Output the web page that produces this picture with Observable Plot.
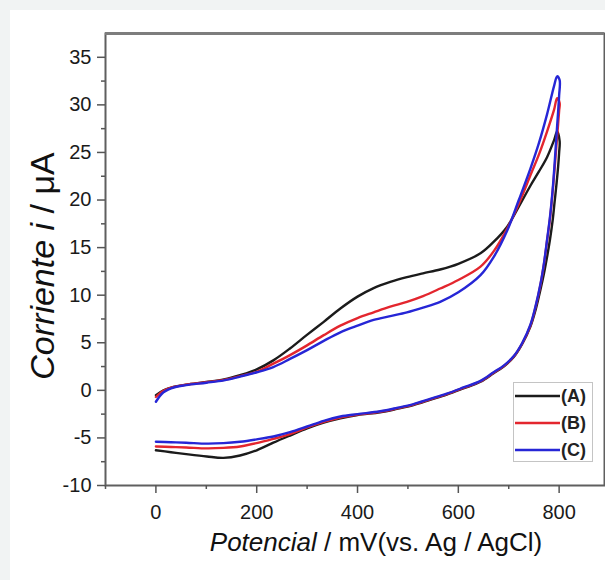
<!DOCTYPE html>
<html><head><meta charset="utf-8">
<script src="https://cdn.jsdelivr.net/npm/d3@7"></script>
<script src="https://cdn.jsdelivr.net/npm/@observablehq/plot@0.6"></script>
<style>
html,body{margin:0;padding:0;background:#f1f3f3;width:605px;height:580px;overflow:hidden;}
#panel{position:absolute;left:10px;top:10px;width:595px;height:570px;background:#fff;}
#chart{position:absolute;left:0;top:0;}
#legend{position:absolute;left:513px;top:382px;width:80px;height:80px;border:1px solid #c4c4c4;background:#fff;box-sizing:border-box;}
</style></head><body>
<div id="panel"></div><div id="chart"></div><div id="legend"></div>
<script>
const seriesNames = ["(A)", "(B)", "(C)"];
const seriesColors = ["#1b1b1b", "#e3262e", "#2626d6"];

const xTicks = [0, 200, 400, 600, 800];
const xMinor = [-100, 100, 300, 500, 700];
const yTicks = [-10, -5, 0, 5, 10, 15, 20, 25, 30, 35];
const yMinor = [-7.5, -2.5, 2.5, 7.5, 12.5, 17.5, 22.5, 27.5, 32.5];
const xDomain = [-100, 890];
const yDomain = [-10, 37.5];

// anodic (forward) sweep potentials, mV
const potForward = [0, 15, 35, 60, 100, 135, 167, 200, 233, 266, 299, 333, 366, 400, 432, 465, 498, 530, 564, 600, 644, 670, 697, 720, 743, 760, 776, 790, 796];
const curA_fwd = [-0.5, 0.0, 0.35, 0.6, 0.87, 1.15, 1.6, 2.2, 3.15, 4.4, 5.8, 7.2, 8.6, 9.85, 10.75, 11.4, 11.9, 12.3, 12.7, 13.3, 14.4, 15.6, 17.2, 19.3, 21.5, 23.0, 24.5, 26.3, 27.2];
const curB_fwd = [-0.7, -0.05, 0.35, 0.6, 0.85, 1.1, 1.5, 1.95, 2.8, 3.7, 4.7, 5.8, 6.8, 7.6, 8.2, 8.8, 9.3, 9.9, 10.7, 11.6, 13.0, 14.6, 17.0, 19.6, 22.6, 24.8, 27.2, 29.5, 30.7];
const curC_fwd = [-1.2, -0.2, 0.3, 0.55, 0.8, 1.05, 1.45, 1.9, 2.45, 3.3, 4.2, 5.2, 6.1, 6.8, 7.4, 7.8, 8.2, 8.7, 9.3, 10.3, 12.1, 14.0, 16.8, 20.0, 23.3, 26.0, 29.0, 32.0, 33.0];

// cathodic (reverse) sweep potentials, mV
const potReverse = [801, 800, 798, 795, 791, 787, 782, 776, 770, 763, 753, 743, 727, 710, 690, 670, 644, 610, 577, 544, 511, 478, 445, 400, 366, 333, 300, 266, 233, 200, 167, 134, 101, 60, 30, 0];
const curA_rev = [26.2, 25.0, 23.5, 21.8, 19.8, 17.8, 15.9, 14.0, 12.3, 10.6, 8.4, 6.7, 4.9, 3.5, 2.5, 1.8, 0.9, 0.2, -0.45, -1.0, -1.55, -1.95, -2.3, -2.6, -2.95, -3.4, -4.0, -4.75, -5.5, -6.3, -6.85, -7.1, -6.95, -6.7, -6.5, -6.3];
const curB_rev = [30.2, 29.4, 28.0, 26.0, 23.3, 20.8, 18.1, 15.7, 13.3, 11.1, 8.7, 6.8, 4.95, 3.55, 2.55, 1.85, 0.95, 0.25, -0.4, -0.95, -1.5, -1.9, -2.25, -2.55, -2.85, -3.3, -3.9, -4.6, -5.1, -5.55, -5.9, -6.05, -6.1, -6.0, -5.95, -5.9];
const curC_rev = [32.6, 31.0, 29.3, 27.0, 23.8, 21.0, 18.3, 15.8, 13.4, 11.2, 8.8, 6.9, 5.0, 3.6, 2.6, 1.9, 1.0, 0.3, -0.35, -0.9, -1.45, -1.85, -2.2, -2.5, -2.75, -3.2, -3.8, -4.4, -4.85, -5.15, -5.4, -5.55, -5.6, -5.5, -5.45, -5.4];

const fwd = [curA_fwd, curB_fwd, curC_fwd];
const rev = [curA_rev, curB_rev, curC_rev];
const rows = [];
seriesNames.forEach((s, i) => {
  potForward.forEach((p, j) => rows.push({series: s, potential: p, current: fwd[i][j]}));
  potReverse.forEach((p, j) => rows.push({series: s, potential: p, current: rev[i][j]}));
});

const font = "'Liberation Sans', Arial, sans-serif";
const fmt = d => String(d);
const chart = Plot.plot({
  width: 605, height: 580,
  marginLeft: 105, marginTop: 33, marginRight: 1, marginBottom: 95,
  style: {fontFamily: font, fontSize: "20px", color: "#1a1a1a", background: "transparent", overflow: "visible"},
  x: {domain: xDomain, label: null},
  y: {domain: yDomain, label: null},
  color: {domain: seriesNames, range: seriesColors},
  marks: [
    Plot.frame({stroke: "#5f5f5f", strokeWidth: 2}),
    Plot.ruleY([yDomain[1]], {stroke: "#7d7d7d", strokeWidth: 3}),
    Plot.axisY({ticks: yTicks, tickFormat: fmt, tickSize: 8, tickPadding: 6, fontSize: 20, stroke: "#555", strokeWidth: 1.5, fill: "#1a1a1a", label: null}),
    Plot.axisY({ticks: yMinor, tickSize: 4, tickFormat: () => "", stroke: "#555", strokeWidth: 1.5, label: null}),
    Plot.axisX({ticks: xTicks, tickFormat: fmt, tickSize: 8, tickPadding: 11, fontSize: 20, stroke: "#555", strokeWidth: 1.5, fill: "#1a1a1a", label: null}),
    Plot.axisX({ticks: xMinor, tickSize: 4, tickFormat: () => "", stroke: "#555", strokeWidth: 1.5, label: null}),
    Plot.line(rows, {x: "potential", y: "current", z: "series", stroke: "series", strokeWidth: 2.4, curve: "catmull-rom"})
  ]
});
document.getElementById("chart").appendChild(chart);

const svg = d3.select(chart);
const yt = svg.append("text")
  .attr("transform", "translate(54,266) rotate(-90)")
  .attr("text-anchor", "middle")
  .style("font-family", font).style("font-size", "34px").style("fill", "#111");
yt.append("tspan").style("font-style", "italic").text("Corriente i");
yt.append("tspan").text(" / μA");

const xt = svg.append("text")
  .attr("transform", "translate(376,551)")
  .attr("text-anchor", "middle")
  .style("font-family", font).style("font-size", "26px").style("fill", "#111");
xt.append("tspan").style("font-style", "italic").text("Potencial");
xt.append("tspan").text(" / mV(vs. Ag / AgCl)");

// legend
const lg = d3.select("#legend").append("svg").attr("width", 78).attr("height", 78)
  .style("font-family", font);
seriesNames.forEach((s, i) => {
  const y = 13 + 27 * i;
  lg.append("line").attr("x1", 1).attr("x2", 46).attr("y1", y).attr("y2", y)
    .attr("stroke", seriesColors[i]).attr("stroke-width", 2.6);
  lg.append("text").attr("x", 47).attr("y", y).attr("dy", "0.36em")
    .style("font-size", "18px").style("font-weight", "bold").style("fill", "#222").text(s);
});
</script></body></html>
